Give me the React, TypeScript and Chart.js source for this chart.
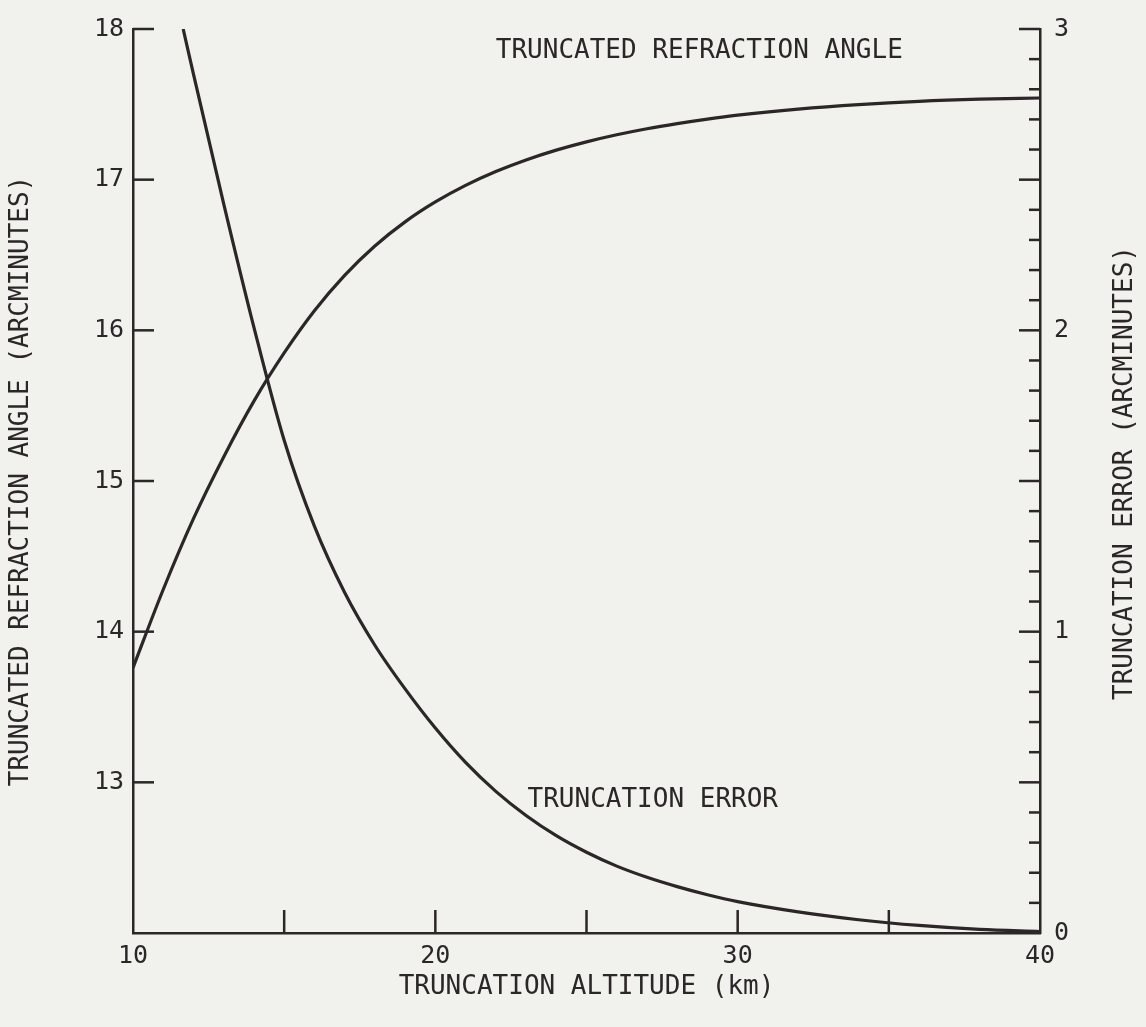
import React, { useEffect, useRef } from "react";
import { Chart, registerables } from "chart.js";

Chart.register(...registerables);

// ---- data ----
const REFRACTION_ALTITUDE = [10, 11, 12, 13, 14, 15, 16, 17, 18, 19, 20, 21, 22, 23, 24, 25, 26, 27, 28, 29, 30, 32, 34, 36, 38, 40];
const REFRACTION_ANGLE = [13.76, 14.28, 14.75, 15.16, 15.53, 15.85, 16.13, 16.365, 16.56, 16.72, 16.852, 16.962, 17.054, 17.131, 17.196, 17.251, 17.298, 17.338, 17.372, 17.402, 17.428, 17.468, 17.498, 17.52, 17.534, 17.542];

const ERROR_ALTITUDE = [11.66, 12, 13, 14, 15, 16, 17, 18, 19, 20, 21, 22, 23, 24, 25, 26, 27, 28, 29, 30, 32, 34, 36, 38, 40];
const TRUNCATION_ERROR = [3.0, 2.85, 2.42, 2.01, 1.635, 1.35, 1.13, 0.955, 0.81, 0.68, 0.566, 0.47, 0.39, 0.323, 0.268, 0.222, 0.185, 0.154, 0.127, 0.104, 0.07, 0.044, 0.025, 0.012, 0.005];

const X_LABELS = [10, 20, 30, 40];
const LEFT_LABELS = [13, 14, 15, 16, 17, 18];
const RIGHT_LABELS = [0, 1, 2, 3];

const X_TITLE = "TRUNCATION ALTITUDE (km)";
const LEFT_TITLE = "TRUNCATED REFRACTION ANGLE (ARCMINUTES)";
const RIGHT_TITLE = "TRUNCATION ERROR (ARCMINUTES)";
const ANGLE_NOTE = "TRUNCATED REFRACTION ANGLE";
const ERROR_NOTE = "TRUNCATION ERROR";
// annotation anchors in data units (x, left-axis value)
const ANGLE_NOTE_AT = [22.0, 17.85];
const ERROR_NOTE_AT = [23.05, 12.88];

const INK = "#2b2628";
const PAPER = "#f1f1ed";
const FONT = "'DejaVu Sans Mono', monospace";

const near = (a: number, b: number) => Math.abs(a - b) < 1e-6;

const paperPlugin = {
  id: "paper",
  beforeDraw(chart: any) {
    const { ctx, width, height } = chart;
    ctx.save();
    ctx.fillStyle = PAPER;
    ctx.fillRect(0, 0, width, height);
    ctx.restore();
  },
};

const marksPlugin = {
  id: "marks",
  afterDraw(chart: any) {
    const { ctx, chartArea, scales } = chart;
    const x = scales.x, y = scales.y, y2 = scales.y2;
    ctx.save();
    ctx.strokeStyle = INK;
    ctx.lineWidth = 2.5;
    ctx.lineCap = "butt";
    const seg = (x1: number, y1: number, x2: number, y2p: number) => {
      ctx.beginPath();
      ctx.moveTo(x1, y1);
      ctx.lineTo(x2, y2p);
      ctx.stroke();
    };
    // left axis inward ticks
    for (const t of y.ticks) {
      if (near(t.value, y.min)) continue;
      const py = y.getPixelForValue(t.value);
      seg(chartArea.left, py, chartArea.left + 21, py);
    }
    // right axis inward ticks (tenths, longer at halves)
    for (const t of y2.ticks) {
      if (near(t.value, y2.min)) continue;
      const py = y2.getPixelForValue(t.value);
      const major = near(t.value * 2, Math.round(t.value * 2));
      seg(chartArea.right, py, chartArea.right - (major ? 21 : 11), py);
    }
    // bottom axis inward ticks
    for (const t of x.ticks) {
      if (near(t.value, x.min) || near(t.value, x.max)) continue;
      const px = x.getPixelForValue(t.value);
      seg(px, chartArea.bottom, px, chartArea.bottom - 23);
    }
    // annotations
    ctx.fillStyle = INK;
    ctx.font = `26px ${FONT}`;
    ctx.textAlign = "left";
    ctx.textBaseline = "middle";
    ctx.fillText(ANGLE_NOTE, x.getPixelForValue(ANGLE_NOTE_AT[0]), y.getPixelForValue(ANGLE_NOTE_AT[1]));
    ctx.fillText(ERROR_NOTE, x.getPixelForValue(ERROR_NOTE_AT[0]), y.getPixelForValue(ERROR_NOTE_AT[1]));
    // right title, reading bottom to top
    ctx.save();
    ctx.translate(y2.right - 21, (y2.top + y2.bottom) / 2 - 8);
    ctx.rotate(-Math.PI / 2);
    ctx.textAlign = "center";
    ctx.fillText(RIGHT_TITLE, 0, 0);
    ctx.restore();
    ctx.restore();
  },
};

export default function App() {
  const ref = useRef<HTMLCanvasElement | null>(null);

  useEffect(() => {
    if (!ref.current) return;
    const chart = new Chart(ref.current, {
      type: "line",
      data: {
        datasets: [
          {
            label: ANGLE_NOTE,
            data: REFRACTION_ALTITUDE.map((a, i) => ({ x: a, y: REFRACTION_ANGLE[i] })),
            yAxisID: "y",
            borderColor: INK,
            borderWidth: 3.2,
            pointRadius: 0,
            cubicInterpolationMode: "monotone",
            fill: false,
          },
          {
            label: ERROR_NOTE,
            data: ERROR_ALTITUDE.map((a, i) => ({ x: a, y: TRUNCATION_ERROR[i] })),
            yAxisID: "y2",
            borderColor: INK,
            borderWidth: 3.2,
            pointRadius: 0,
            cubicInterpolationMode: "monotone",
            fill: false,
          },
        ],
      },
      options: {
        animation: false,
        responsive: true,
        maintainAspectRatio: false,
        layout: { padding: { top: 24, left: 0, right: 0, bottom: 0 } },
        plugins: { legend: { display: false }, tooltip: { enabled: false } },
        scales: {
          x: {
            type: "linear",
            min: 10,
            max: 40,
            afterFit: (s: any) => { s.height = 94; },
            grid: { display: false, drawTicks: false },
            border: { display: true, color: INK, width: 2.5 },
            ticks: {
              stepSize: 5,
              autoSkip: false,
              maxRotation: 0,
              padding: 8,
              color: INK,
              font: { family: FONT, size: 25 },
              callback: (v: any) => (X_LABELS.includes(Number(v)) ? String(v) : ""),
            },
            title: {
              display: true,
              text: X_TITLE,
              color: INK,
              font: { family: FONT, size: 26 },
              padding: { top: 0, bottom: 24 },
            },
          },
          y: {
            type: "linear",
            position: "left",
            min: 12,
            max: 18,
            afterFit: (s: any) => { s.width = 133; },
            grid: { display: false, drawTicks: false },
            border: { display: true, color: INK, width: 2.5 },
            ticks: {
              stepSize: 1,
              autoSkip: false,
              padding: 9,
              color: INK,
              font: { family: FONT, size: 25 },
              callback: (v: any) => (LEFT_LABELS.includes(Number(v)) ? String(v) : ""),
            },
            title: {
              display: true,
              text: LEFT_TITLE,
              color: INK,
              font: { family: FONT, size: 26 },
              padding: { top: 6, bottom: 0 },
            },
          },
          y2: {
            type: "linear",
            position: "right",
            min: 0,
            max: 3,
            afterFit: (s: any) => { s.width = 106; },
            grid: { display: false, drawTicks: false },
            border: { display: true, color: INK, width: 2.5 },
            ticks: {
              stepSize: 0.1,
              autoSkip: false,
              padding: 14,
              color: INK,
              font: { family: FONT, size: 25 },
              callback: (v: any) => {
                const n = Number(v);
                const hit = RIGHT_LABELS.find((r) => near(r, n));
                return hit !== undefined ? String(hit) : "";
              },
            },
          },
        },
      },
      plugins: [paperPlugin, marksPlugin],
    } as any);
    return () => chart.destroy();
  }, []);

  return (
    <div style={{ position: "absolute", left: 0, top: 0, width: 1146, height: 1027, background: PAPER }}>
      <canvas ref={ref} />
    </div>
  );
}
